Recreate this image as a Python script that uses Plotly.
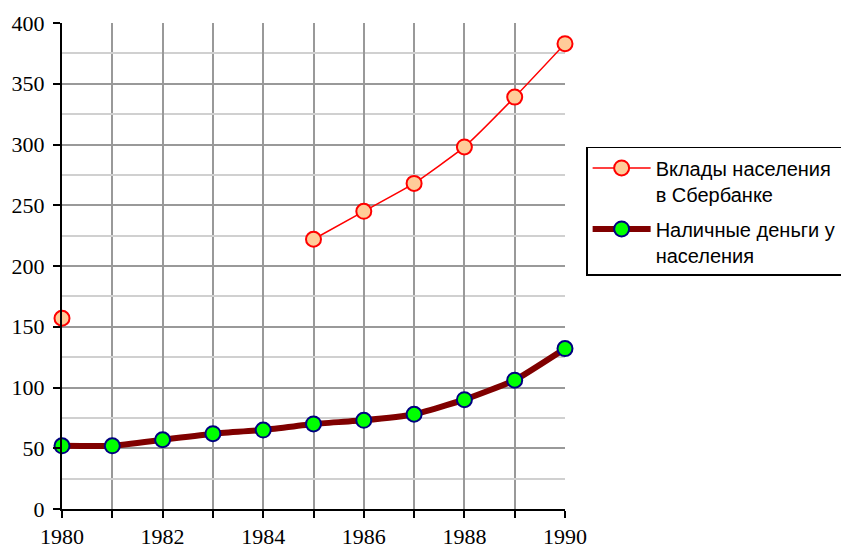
import plotly.graph_objects as go

years = [1980, 1981, 1982, 1983, 1984, 1985, 1986, 1987, 1988, 1989, 1990]
deposits = [157, None, None, None, None, 222, 245, 268, 298, 339, 383]
cash = [52, 52, 57, 62, 65, 70, 73, 78, 90, 106, 132]
series_names = ["Вклады населения<br>в Сбербанке", "Наличные деньги у<br>населения"]

fig = go.Figure()
fig.add_trace(go.Scatter(
    x=years, y=deposits, name=series_names[0], mode="lines+markers",
    connectgaps=False, cliponaxis=False, legendgroup="a",
    line=dict(color="#FF0000", width=1.5, shape="spline", smoothing=0.4),
    marker=dict(symbol="circle", size=15, color="#FFCC99",
                line=dict(color="#FF0000", width=2)),
))
fig.add_trace(go.Scatter(
    x=years, y=cash, name=series_names[1], mode="lines+markers",
    cliponaxis=False, legendgroup="b",
    line=dict(color="#800000", width=6, shape="spline", smoothing=0.4),
    marker=dict(symbol="circle", size=15, color="#00FF00",
                line=dict(color="#000080", width=2)),
))

fig.update_layout(
    width=841, height=540,
    margin=dict(l=54, r=284, t=15, b=39, autoexpand=False),
    paper_bgcolor="white", plot_bgcolor="white",
    font=dict(family="Liberation Serif", size=22, color="black"),
    showlegend=True,
    legend=dict(
        x=1.042, y=0.745, xanchor="left", yanchor="top",
        bordercolor="black", borderwidth=1.5, bgcolor="white",
        font=dict(family="Liberation Sans", size=20, color="black"),
        valign="top", tracegroupgap=6, itemwidth=58,
    ),
    xaxis=dict(
        range=[1980, 1990], tick0=1980, dtick=2, tickformat="d",
        showgrid=True, gridcolor="#999999", gridwidth=2,
        showline=True, linecolor="black", linewidth=2,
        ticks="outside", ticklen=7, tickcolor="black", tickwidth=2,
        minor=dict(dtick=1, showgrid=True, gridcolor="#999999", gridwidth=2,
                   ticks="outside", ticklen=7, tickcolor="black", tickwidth=2),
        zeroline=False, fixedrange=True, automargin=False,
    ),
    yaxis=dict(
        range=[0, 400], tick0=0, dtick=50,
        showgrid=True, gridcolor="#999999", gridwidth=2,
        showline=True, linecolor="black", linewidth=2,
        ticks="outside", ticklen=7, tickcolor="black", tickwidth=2,
        ticklabelstandoff=4,
        minor=dict(dtick=25, showgrid=True, gridcolor="#D0D0D0", gridwidth=2),
        zeroline=False, fixedrange=True, automargin=False,
    ),
)

fig.write_html("out.html")
